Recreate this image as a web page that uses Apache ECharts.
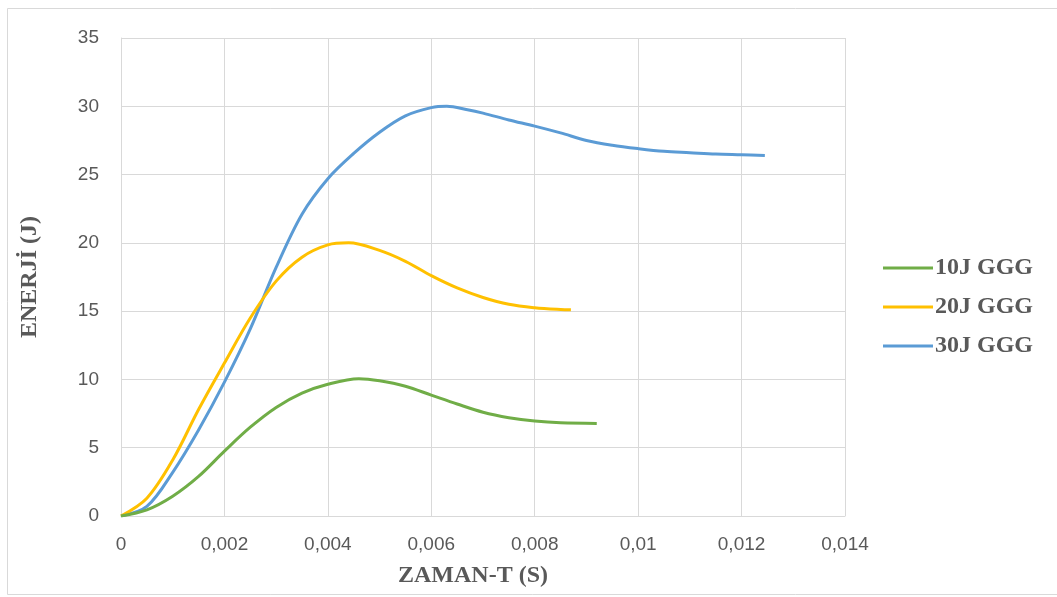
<!DOCTYPE html>
<html>
<head>
<meta charset="utf-8">
<script src="https://cdn.jsdelivr.net/npm/echarts@6/dist/echarts.min.js"></script>
<style>html,body{margin:0;padding:0;background:#fff;}#c{width:1057px;height:597px;}</style>
</head>
<body>
<div id="c"></div>
<script>
const seriesNames = ['10J GGG', '20J GGG', '30J GGG'];
const xTicks = [0, 0.002, 0.004, 0.006, 0.008, 0.01, 0.012, 0.014];
const yTicks = [0, 5, 10, 15, 20, 25, 30, 35];
const g10 = [[0,0],[0.0005,0.45],[0.001,1.45],[0.0015,2.9],[0.002,4.75],[0.0025,6.5],[0.003,7.95],[0.0035,9.0],[0.004,9.65],[0.0046,10.05],[0.005,9.9],[0.0055,9.5],[0.006,8.85],[0.0065,8.2],[0.007,7.6],[0.0075,7.2],[0.008,6.95],[0.0085,6.82],[0.0092,6.78]];
const g20 = [[0,0],[0.0005,1.3],[0.001,4.1],[0.0015,7.8],[0.002,11.2],[0.0025,14.5],[0.003,17.2],[0.0035,18.95],[0.004,19.85],[0.0044,20.0],[0.005,19.45],[0.0055,18.65],[0.006,17.6],[0.0065,16.7],[0.007,16.0],[0.0075,15.5],[0.008,15.25],[0.0085,15.12],[0.0087,15.1]];
const g30 = [[0,0],[0.0005,0.7],[0.001,3.2],[0.0015,6.3],[0.002,9.8],[0.0025,13.7],[0.003,18.2],[0.0035,22.1],[0.004,24.7],[0.0045,26.55],[0.005,28.1],[0.0055,29.3],[0.006,29.9],[0.0063,30.0],[0.0067,29.75],[0.007,29.5],[0.0075,29.0],[0.008,28.55],[0.0085,28.05],[0.009,27.5],[0.0095,27.15],[0.01,26.9],[0.0105,26.7],[0.011,26.6],[0.0115,26.5],[0.012,26.45],[0.01245,26.4]];
const colors = ['#70AD47', '#FFC000', '#5B9BD5'];
const allData = [g10, g20, g30];

const chart = echarts.init(document.getElementById('c'), null, {renderer: 'canvas'});
const labelFont = {color: '#595959', fontSize: 19, fontFamily: 'Liberation Sans, Arial, sans-serif'};
const titleFont = {color: '#595959', fontSize: 24, fontWeight: 'bold', fontFamily: 'Liberation Serif, Times New Roman, serif'};
chart.setOption({
  animation: false,
  backgroundColor: '#fff',
  graphic: [{
    type: 'rect', left: 7, top: 8, z: -10,
    shape: {width: 1060, height: 586},
    style: {fill: '#fff', stroke: '#d9d9d9', lineWidth: 1}
  }],
  grid: {left: 121, right: 212, top: 38, bottom: 81},
  legend: {
    orient: 'vertical', left: 878, top: 251,
    data: seriesNames,
    icon: 'rect', itemWidth: 50, itemHeight: 3, itemGap: 15,
    textStyle: Object.assign({lineHeight: 24, padding: [0,0,0,-3]}, titleFont)
  },
  xAxis: {
    type: 'value', min: xTicks[0], max: xTicks[xTicks.length-1], interval: 0.002,
    name: 'ZAMAN-T (S)', nameLocation: 'middle', nameGap: 48,
    nameTextStyle: Object.assign({padding: [0, 20, 0, 0]}, titleFont),
    axisLine: {show: true, lineStyle: {color: '#d9d9d9', width: 1}},
    axisTick: {show: false},
    axisLabel: Object.assign({margin: 19, formatter: v => String(+v.toFixed(3)).replace('.', ',')}, labelFont),
    splitLine: {show: true, lineStyle: {color: '#d9d9d9', width: 1}}
  },
  yAxis: {
    type: 'value', min: yTicks[0], max: yTicks[yTicks.length-1], interval: 5,
    name: 'ENERJİ (J)', nameLocation: 'middle', nameGap: 79, nameRotate: 90,
    nameTextStyle: titleFont,
    axisLine: {show: true, lineStyle: {color: '#d9d9d9', width: 1}},
    axisTick: {show: false},
    axisLabel: Object.assign({margin: 22}, labelFont),
    splitLine: {show: true, lineStyle: {color: '#d9d9d9', width: 1}}
  },
  series: seriesNames.map((n, i) => ({
    name: n, type: 'line', data: allData[i], smooth: 0.34, showSymbol: false, symbol: 'none',
    lineStyle: {color: colors[i], width: 3}, itemStyle: {color: colors[i]}, z: 5 - i
  }))
});
</script>
</body>
</html>
